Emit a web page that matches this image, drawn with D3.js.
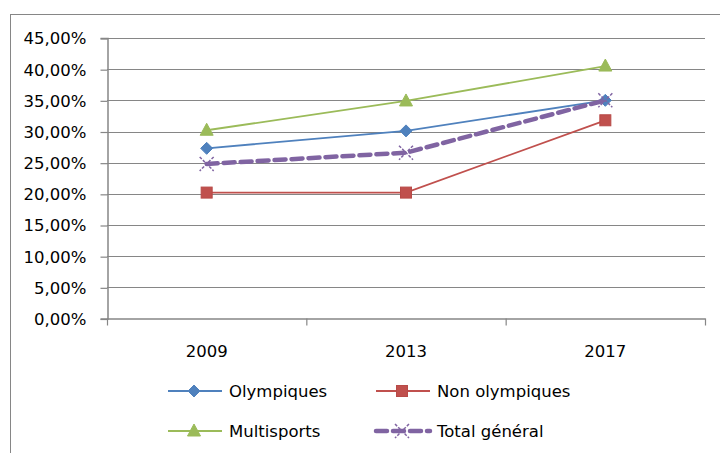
<!DOCTYPE html>
<html>
<head>
<meta charset="utf-8">
<script src="https://cdn.jsdelivr.net/npm/d3@7"></script>
<style>
  html, body { margin: 0; padding: 0; background: #fff; }
  svg { display: block; }
  text { font-family: "DejaVu Sans", sans-serif; fill: #000; }
</style>
</head>
<body>
<svg id="chart" width="720" height="453"></svg>
<script>
// Years on the category axis
const years = ["2009", "2013", "2017"];

// Share per year for each group (fraction)
const olympiques = [0.273, 0.301, 0.350];
const nonOlympiques = [0.202, 0.202, 0.318];
const multisports = [0.302, 0.349, 0.405];
const totalGeneral = [0.248, 0.266, 0.350];

// Value axis ticks
const yTicks = [0, 0.05, 0.10, 0.15, 0.20, 0.25, 0.30, 0.35, 0.40, 0.45];

const series = [
  { name: "Olympiques", values: olympiques, color: "#4F81BD", marker: "diamond", dashed: false },
  { name: "Non olympiques", values: nonOlympiques, color: "#C0504D", marker: "square", dashed: false },
  { name: "Multisports", values: multisports, color: "#9BBB59", marker: "triangle", dashed: false },
  { name: "Total général", values: totalGeneral, color: "#8064A2", marker: "x", dashed: true }
];

const svg = d3.select("#chart");
const gridColor = "#868686";

// Outer chart frame (extends past the window on the right and bottom)
svg.append("rect")
  .attr("x", 10.5).attr("y", 14.5)
  .attr("width", 730).attr("height", 460)
  .attr("fill", "none").attr("stroke", gridColor).attr("stroke-width", 1);

const plot = { left: 107, right: 705, top: 38, bottom: 318.5 };

const x = d3.scaleBand().domain(years).range([plot.left, plot.right]);
const y = d3.scaleLinear().domain([0, 0.45]).range([plot.bottom, plot.top]);

const fmt = v => d3.format(".2f")(v * 100).replace(".", ",") + "%";

// Horizontal gridlines
svg.append("g")
  .selectAll("line")
  .data(yTicks.filter(t => t > 0))
  .join("line")
  .attr("x1", plot.left).attr("x2", plot.right)
  .attr("y1", d => Math.round(y(d)) + 0.5).attr("y2", d => Math.round(y(d)) + 0.5)
  .attr("stroke", gridColor).attr("stroke-width", 1.2);

// Value axis
const yAxis = svg.append("g")
  .attr("transform", `translate(${plot.left + 0.5},0)`)
  .call(d3.axisLeft(y).tickValues(yTicks).tickFormat(fmt).tickSize(7).tickPadding(14));
yAxis.select(".domain").attr("stroke", gridColor).attr("stroke-width", 1.5);
yAxis.selectAll(".tick line").attr("stroke", gridColor).attr("stroke-width", 1.2)
  .attr("transform", "translate(0,0.5)");
yAxis.selectAll(".tick text")
  .style("font-family", "'DejaVu Sans', sans-serif")
  .style("font-size", "16.5px").attr("fill", "#000").attr("dy", "0.36em");

// Category axis
const xAxis = svg.append("g")
  .attr("transform", `translate(0,${plot.bottom})`)
  .call(d3.axisBottom(x).tickSize(0).tickPadding(27));
xAxis.select(".domain").attr("stroke", gridColor).attr("stroke-width", 1.5);
xAxis.selectAll(".tick text")
  .style("font-family", "'DejaVu Sans', sans-serif")
  .style("font-size", "16.5px").attr("fill", "#000");
// Tick marks between categories
const boundaries = years.map(d => x(d)).concat([plot.right]);
xAxis.append("g").selectAll("line")
  .data(boundaries)
  .join("line")
  .attr("x1", d => d + 0.5).attr("x2", d => d + 0.5)
  .attr("y1", 0).attr("y2", 7)
  .attr("stroke", gridColor).attr("stroke-width", 1.2);

const cx = d => x(d) + x.bandwidth() / 2;

function drawMarker(g, type, color, px, py) {
  if (type === "diamond") {
    g.append("path")
      .attr("d", `M${px},${py - 6}L${px + 6},${py}L${px},${py + 6}L${px - 6},${py}Z`)
      .attr("fill", color).attr("stroke", color).attr("stroke-width", 1);
  } else if (type === "square") {
    g.append("rect")
      .attr("x", px - 5.5).attr("y", py - 5.5).attr("width", 11).attr("height", 11)
      .attr("fill", color).attr("stroke", "#b84a47").attr("stroke-width", 1);
  } else if (type === "triangle") {
    g.append("path")
      .attr("d", `M${px},${py - 7}L${px + 6.5},${py + 5}L${px - 6.5},${py + 5}Z`)
      .attr("fill", color).attr("stroke", color).attr("stroke-width", 1);
  } else if (type === "x") {
    g.append("path")
      .attr("d", `M${px - 7},${py - 7}L${px + 7},${py + 7}M${px + 7},${py - 7}L${px - 7},${py + 7}`)
      .attr("stroke", color).attr("stroke-width", 1.5).attr("stroke-dasharray", "3,1.5").attr("fill", "none");
  }
}

const line = d3.line().x(d => cx(d.year)).y(d => y(d.value));

series.forEach(s => {
  const pts = years.map((yr, i) => ({ year: yr, value: s.values[i] }));
  const g = svg.append("g");
  g.append("path")
    .datum(pts)
    .attr("d", line)
    .attr("fill", "none")
    .attr("stroke", s.color)
    .attr("stroke-width", s.dashed ? 4.5 : 1.8)
    .attr("stroke-dasharray", s.dashed ? "11,6" : null)
    .attr("stroke-linecap", s.dashed ? "round" : "butt");
  pts.forEach(p => drawMarker(g, s.marker, s.color, cx(p.year), y(p.value)));
});

// Legend
const legendItems = [
  { s: series[0], lx: 168, ly: 391 },
  { s: series[1], lx: 376, ly: 391 },
  { s: series[2], lx: 168, ly: 431 },
  { s: series[3], lx: 376, ly: 431 }
];
const legend = svg.append("g");
legendItems.forEach(({ s, lx, ly }) => {
  const g = legend.append("g");
  g.append("line")
    .attr("x1", lx).attr("x2", lx + 54)
    .attr("y1", ly).attr("y2", ly)
    .attr("stroke", s.color)
    .attr("stroke-width", s.dashed ? 4.5 : 1.8)
    .attr("stroke-dasharray", s.dashed ? "11,6" : null)
    .attr("stroke-linecap", s.dashed ? "round" : "butt");
  drawMarker(g, s.marker, s.color, lx + 26, ly);
  g.append("text")
    .attr("x", lx + 61).attr("y", ly)
    .attr("dy", "0.36em")
    .style("font-size", "16.5px")
    .text(s.name);
});
</script>
</body>
</html>
